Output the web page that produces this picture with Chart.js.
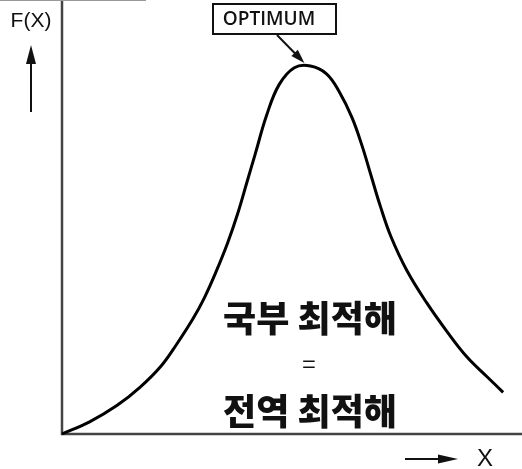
<!DOCTYPE html>
<html>
<head>
<meta charset="utf-8">
<script src="https://cdn.jsdelivr.net/npm/chart.js@4"></script>
<style>
  html, body { margin: 0; padding: 0; background: #fff; }
  canvas { display: block; }
</style>
</head>
<body>
<canvas id="curveChart" width="522" height="469"></canvas>
<script>
// Curve (x: 0..10, F(x): 0..10)
const xValues = [0, 0.6, 1.2, 1.7, 2.15, 2.5, 2.85, 3.1, 3.35, 3.6, 3.82, 4.02, 4.2, 4.45, 4.72, 5.05, 5.4, 5.75, 6.03, 6.3, 6.52, 6.72, 6.92, 7.15, 7.5, 7.93, 8.37, 8.8, 9.24, 9.59];
const fValues = [0, 0.28, 0.66, 1.08, 1.56, 2.08, 2.66, 3.15, 3.74, 4.4, 5.08, 5.8, 6.45, 7.35, 8.05, 8.44, 8.48, 8.3, 7.88, 7.3, 6.65, 5.95, 5.25, 4.55, 3.76, 3.02, 2.36, 1.78, 1.32, 0.96];

const peakLabel = 'OPTIMUM';
const yAxisLabel = 'F(X)';
const xAxisLabel = 'X';
const noteLines = ['국부 최적해', '=', '전역 최적해'];

const points = xValues.map((x, i) => ({ x: x, y: fValues[i] }));

function arrow(ctx, x1, y1, x2, y2, headLen, headW) {
  const ang = Math.atan2(y2 - y1, x2 - x1);
  ctx.beginPath();
  ctx.moveTo(x1, y1);
  ctx.lineTo(x2 - Math.cos(ang) * headLen * 0.8, y2 - Math.sin(ang) * headLen * 0.8);
  ctx.stroke();
  ctx.beginPath();
  ctx.moveTo(x2, y2);
  ctx.lineTo(x2 - Math.cos(ang) * headLen - Math.sin(ang) * headW / 2,
             y2 - Math.sin(ang) * headLen + Math.cos(ang) * headW / 2);
  ctx.lineTo(x2 - Math.cos(ang) * headLen + Math.sin(ang) * headW / 2,
             y2 - Math.sin(ang) * headLen - Math.cos(ang) * headW / 2);
  ctx.closePath();
  ctx.fill();
}

// axes, arrows and labels drawn on top of the chart area
const decorations = {
  id: 'decorations',
  beforeDatasetsDraw(chart) {
    const { ctx, chartArea } = chart;
    ctx.save();
    ctx.strokeStyle = '#444';
    ctx.lineWidth = 2.5;
    ctx.beginPath();
    ctx.moveTo(chartArea.left, 0);
    ctx.lineTo(chartArea.left, chartArea.bottom);
    ctx.lineTo(chartArea.right, chartArea.bottom);
    ctx.stroke();
    // thin border remnant at top-left
    ctx.strokeStyle = '#999';
    ctx.lineWidth = 2;
    ctx.beginPath();
    ctx.moveTo(0, 0);
    ctx.lineTo(146, 0);
    ctx.stroke();
    ctx.restore();
  },
  afterDatasetsDraw(chart) {
    const { ctx } = chart;
    const xs = chart.scales.x, ys = chart.scales.y;
    ctx.save();
    ctx.fillStyle = '#111';
    ctx.strokeStyle = '#111';

    // F(X) label and up arrow
    ctx.font = '21px "Liberation Sans", Arial, sans-serif';
    ctx.textAlign = 'center';
    ctx.textBaseline = 'middle';
    ctx.fillText(yAxisLabel, 31, 21);
    ctx.lineWidth = 2;
    arrow(ctx, 31, 112, 31, 45, 19, 10);

    // X label and right arrow
    arrow(ctx, 405, 459, 458, 459, 20, 9);
    ctx.font = '24px "Liberation Sans", Arial, sans-serif';
    ctx.fillText(xAxisLabel, 485, 459);

    // OPTIMUM box pointing at the peak
    const peakIdx = fValues.indexOf(Math.max(...fValues));
    const px = xs.getPixelForValue(xValues[peakIdx]) - 6;
    const py = ys.getPixelForValue(fValues[peakIdx]) - 3;
    ctx.lineWidth = 2;
    ctx.strokeRect(213, 4, 123, 30);
    ctx.font = '600 19px "Open Sans", "DejaVu Sans", sans-serif';
    ctx.fillText(peakLabel, 269, 20);
    arrow(ctx, 277, 35, px, py, 14, 9);

    // Korean note in the middle
    ctx.font = '900 36px "Noto Sans CJK KR", sans-serif';
    ctx.fillText(noteLines[0], 310, 318);
    ctx.font = '24px "Noto Sans CJK KR", sans-serif';
    ctx.fillText(noteLines[1], 309, 364);
    ctx.font = '900 36px "Noto Sans CJK KR", sans-serif';
    ctx.fillText(noteLines[2], 310, 411);
    ctx.restore();
  }
};

new Chart(document.getElementById('curveChart'), {
  type: 'line',
  data: {
    datasets: [{
      data: points,
      borderColor: '#000',
      borderWidth: 3,
      pointRadius: 0,
      fill: false,
      tension: 0.4
    }]
  },
  options: {
    responsive: false,
    animation: false,
    clip: false,
    layout: { padding: { left: 62, top: 0, right: 0, bottom: 35 } },
    plugins: { legend: { display: false }, tooltip: { enabled: false } },
    scales: {
      x: { type: 'linear', min: 0, max: 10, display: false },
      y: { type: 'linear', min: 0, max: 10, display: false }
    }
  },
  plugins: [decorations]
});
</script>
</body>
</html>
